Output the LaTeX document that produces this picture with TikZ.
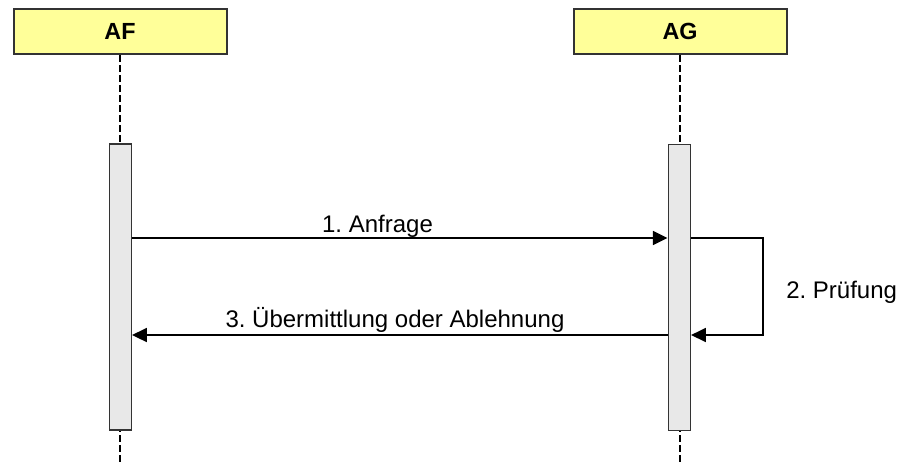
\documentclass[tikz,border=0pt]{standalone}
\usepackage{fontspec}
\setmainfont{Liberation Sans}
\usetikzlibrary{arrows.meta}
\frenchspacing
\definecolor{headfill}{HTML}{FFFF99}
\definecolor{barfill}{HTML}{E8E8E8}
\definecolor{edge}{HTML}{333333}
\tikzset{
  head/.style={draw=edge, fill=headfill, line width=1.5pt, minimum width=159.75pt,
    minimum height=33.75pt, inner sep=0pt, font=\fontsize{17.5}{20}\selectfont\bfseries},
  actbar/.style={draw=edge, fill=barfill, line width=1.2pt, minimum width=16.5pt,
    minimum height=214.5pt, inner sep=0pt},
  lifeline/.style={draw=black, line width=1.5pt, dash pattern=on 5.25pt off 2.25pt},
  msg/.style={draw=black, line width=1.2pt, -{Triangle[length=11pt,width=10.5pt]}},
  msglabel/.style={anchor=base, inner sep=0pt, font=\fontsize{18}{21}\selectfont}
}
\begin{document}
\begin{tikzpicture}[x=0.75pt, y=-0.75pt]
            \useasboundingbox (0,0) rectangle (902,462);
            % lifeline heads
            \node[head] (af) at (120,31.5) {AF};
            \node[head] (ag) at (680,31.5) {AG};
            \coordinate (bot) at (0,462);
            \coordinate (m1) at (0,238);
            \coordinate (m3) at (0,335);
            \draw[lifeline] (af.south) -- (af.south |- bot);
            \draw[lifeline] (ag.south) -- (ag.south |- bot);
            % activation bars
            \node[actbar] (actaf) at (120.3,287) {};
            \node[actbar] (actag) at (679.3,287.5) {};
            % messages
            \draw[msg] (actaf.east |- m1) -- (actag.west |- m1);
            \node[msglabel] (lbla) at (377.5,232) {1. Anfrage};
            \draw[msg, line width=1pt] (actag.east |- m1) -- ++(72,0) |- (actag.east |- m3);
            \node[msglabel, anchor=base west] (lblp) at (786,298) {2. Prüfung};
            \draw[msg] (actag.west |- m3) -- (actaf.east |- m3);
            \node[msglabel] (lblu) at (395,327) {3. Übermittlung oder Ablehnung};
        \end{tikzpicture}
\end{document}
